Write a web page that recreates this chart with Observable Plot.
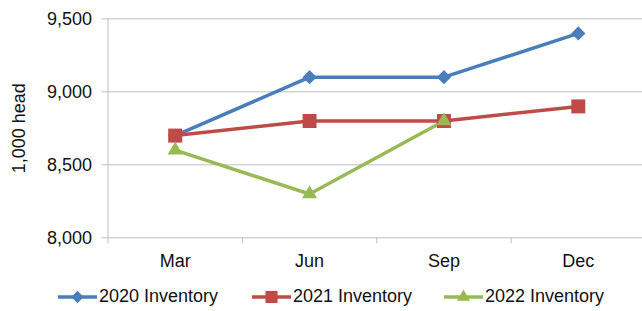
<!DOCTYPE html>
<html>
<head>
<meta charset="utf-8">
<script src="https://cdn.jsdelivr.net/npm/d3@7"></script>
<script src="https://cdn.jsdelivr.net/npm/@observablehq/plot@0.6"></script>
<style>
  html, body { margin: 0; padding: 0; background: #fff; }
  #wrap { position: relative; width: 642px; height: 311px; font-family: "Liberation Sans", Arial, sans-serif; color: #111; }
  #legend { position: absolute; left: 0; top: 286px; width: 642px; height: 24px; }
  .item { position: absolute; top: 0; display: flex; align-items: center; font-size: 18px; white-space: nowrap; }
  .item svg { margin-right: 2px; }
</style>
</head>
<body>
<div id="wrap"><div id="chart"></div><div id="legend"></div></div>
<script>
const categories = ["Mar", "Jun", "Sep", "Dec"];
const seriesNames = ["2020 Inventory", "2021 Inventory", "2022 Inventory"];
const values2020 = [8700, 9100, 9100, 9400];
const values2021 = [8700, 8800, 8800, 8900];
const values2022 = [8600, 8300, 8800, null];
const yTicks = [8000, 8500, 9000, 9500];
const colors = ["#4A7EBB", "#BE4B48", "#98B954"];
const symbols = ["diamond2", "square", "triangle"];
const radii = [6.4, 7.9, 5.6];

const allValues = [values2020, values2021, values2022];
const data = [];
allValues.forEach((vals, s) => {
  vals.forEach((v, i) => {
    if (v != null) data.push({series: seriesNames[s], i, value: v});
  });
});
const boundaries = d3.range(categories.length + 1).map(i => i - 0.5);
const font = '"Liberation Sans", Arial, sans-serif';

const plot = Plot.plot({
  width: 642,
  height: 280,
  marginLeft: 107.5,
  marginRight: 0,
  marginTop: 18.3,
  marginBottom: 42.7,
  style: {fontSize: "18px", fontFamily: font, color: "#111", background: "transparent", overflow: "visible"},
  x: {domain: [-0.5, categories.length - 0.5], range: [107.5, 645]},
  y: {domain: [8000, 9500]},
  marks: [
    Plot.ruleY(yTicks, {x1: -0.5, x2: categories.length - 0.5, stroke: "#BFBFBF", strokeWidth: 1}),
    Plot.ruleX([-0.5], {y1: 8000, y2: 9500, stroke: "#BFBFBF", strokeWidth: 1}),
    Plot.axisY(yTicks, {tickSize: 6, tickPadding: 10, tickFormat: d3.format(","), stroke: "#BFBFBF", fill: "#111", label: null}),
    Plot.axisX(boundaries, {tickSize: 6, tickFormat: () => "", stroke: "#BFBFBF", label: null}),
    Plot.axisX(d3.range(categories.length), {tickSize: 0, tickPadding: 16, tickFormat: i => categories[i], fill: "#111", label: null}),
    Plot.text(["1,000 head"], {frameAnchor: "left", dx: -89, rotate: -90, textAnchor: "middle", fontSize: 18, fill: "#111"}),
    ...seriesNames.map((name, s) => Plot.line(data.filter(d => d.series === name), {x: "i", y: "value", stroke: colors[s], strokeWidth: 3.5})),
    ...seriesNames.map((name, s) => Plot.dot(data.filter(d => d.series === name), {x: "i", y: "value", symbol: () => symbols[s], r: radii[s], fill: colors[s], stroke: "none"}))
  ]
});
document.getElementById("chart").appendChild(plot);

// Legend
const legendLefts = [58, 252, 444];
const legend = d3.select("#legend");
seriesNames.forEach((name, s) => {
  const item = legend.append("div").attr("class", "item").style("left", legendLefts[s] + "px");
  const sw = item.append("svg").attr("width", 39).attr("height", 20);
  sw.append("line").attr("x1", 0).attr("x2", 39).attr("y1", 10).attr("y2", 10).attr("stroke", colors[s]).attr("stroke-width", 3.5);
  const sym = {diamond2: d3.symbolDiamond2, square: d3.symbolSquare, triangle: d3.symbolTriangle}[symbols[s]];
  sw.append("path").attr("transform", "translate(19.5,10)").attr("d", d3.symbol(sym, Math.PI * radii[s] * radii[s] * 0.75)()).attr("fill", colors[s]);
  item.append("span").text(name);
});
</script>
</body>
</html>
